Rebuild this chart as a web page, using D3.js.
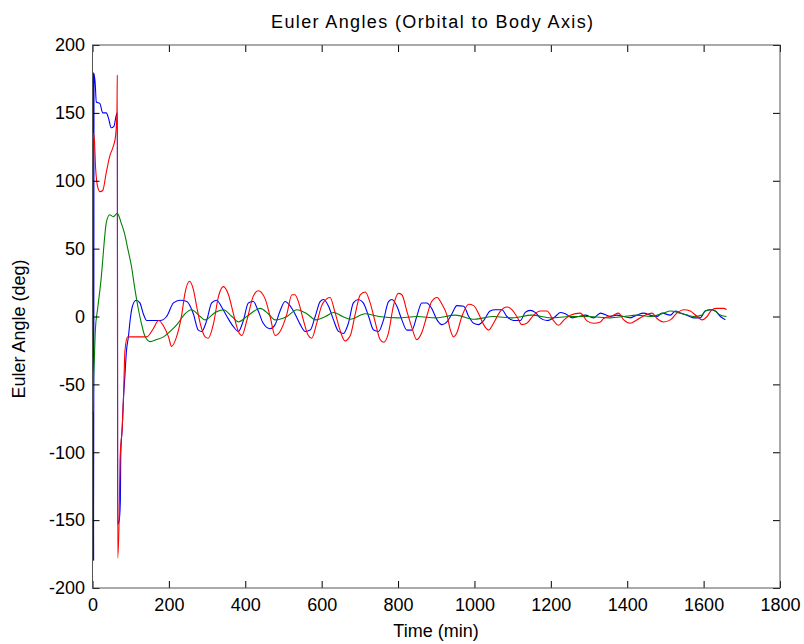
<!DOCTYPE html>
<html>
<head>
<meta charset="utf-8">
<script src="https://cdn.jsdelivr.net/npm/d3@7"></script>
<style>
  body { margin: 0; background: #fff; }
  text { font-family: "Liberation Sans", Arial, sans-serif; fill: #000; }
</style>
</head>
<body>
<svg id="chart" width="804" height="644"></svg>
<script>
// tick values
var xTicks = [0, 200, 400, 600, 800, 1000, 1200, 1400, 1600, 1800];
var yTicks = [-200, -150, -100, -50, 0, 50, 100, 150, 200];

// blue series (time in min, angle in deg)
var blueT = [0, 1, 2, 3, 4, 7, 10, 19, 27, 36, 42, 49, 56, 62, 65, 66, 70, 73, 74, 78, 81, 85, 89, 94, 98, 104, 114, 124, 133, 142, 159, 177, 194, 212, 229, 247, 264, 277, 286, 299, 312, 325, 338, 352, 369, 382, 395, 408, 421, 434, 447, 465, 478, 491, 504, 517, 530, 544, 557, 570, 583, 596, 605, 618, 631, 644, 657, 670, 683, 696, 709, 723, 736, 749, 762, 775, 784, 797, 810, 823, 836, 849, 862, 875, 888, 902, 915, 928, 941, 954, 972, 985, 998, 1011, 1024, 1041, 1054, 1072, 1085, 1102, 1120, 1133, 1146, 1159, 1172, 1190, 1212, 1225, 1238, 1256, 1273, 1290, 1312, 1330, 1356, 1373, 1391, 1408, 1425, 1443, 1460, 1478, 1491, 1513, 1526, 1539, 1556, 1574, 1591, 1604, 1618, 1631, 1644, 1657];
var blueV = [0, -180, 180, -180, 179, 172, 158, 157, 150, 150, 146, 139, 140, 148, 150, -153, -150, -135, -101, -81, -61, -43, -25, -15, -4, 7, 12, 10, 2, -3, -3, -3, 0, 10, 12, 11, 2, -10, -11, -3, 10, 12, 7, 0, -7.5, -11, -3, 10, 11, 4, -5, -9, -6, 4, 11, 8, 2, -6, -11, -10, 0, 11, 12.5, 7.5, -2.5, -11, -12.5, -5, 10, 12.5, 10, 0, -10, -11, -2.5, 11, 12.5, 7.5, -2.5, -10, -10, 0, 10, 10, 6, -2.5, -6, -4, 2, 8, 7.5, 0, -5, -6, -3, 4, 5, 5, 0, -3, -3, 3, 4.5, 3, -1, -3, 0, 3, 2, -1, 0, 1, -1, 2.5, 0, 1, 0, -1, 1, 2.5, 1, 0, 2.5, 1, 4, 2.5, 1, -1, -1, 4, 5, 4, 0, -2.5];

// green series
var greenT = [0, 1, 2, 3, 5, 7.5, 14, 23, 27.5, 32, 36, 45, 54, 65, 75, 84, 93, 102, 110, 119, 128, 138, 151, 168, 186, 203, 221, 242, 259, 282, 295, 321, 343, 365, 382, 404, 439, 460, 478, 509, 535, 561, 585, 610, 631, 655, 675, 714, 750, 800, 850, 900, 950, 1000, 1050, 1100, 1150, 1200, 1250, 1300, 1356, 1391, 1425, 1460, 1495, 1513, 1539, 1574, 1596, 1604, 1622, 1645, 1660];
var greenV = [-72, -40, -70, -45, -30, -10, 7, 29, 44, 59, 69, 75, 73.5, 76, 69, 61, 49, 37, 22, 7, -5, -15, -18.5, -17, -15, -11, -6, 2, 5, 0, -2.5, 3, 5, 0, -4, 0, 6, 2, -2.5, 0, 5, 2, -2.5, 0, 3, 0, -2, 2, 0, -1, 0, -1, 1, -2, 0, -1, 1, -1, 0, 0, -1, 0, 1, 0, 2.5, 4, 2.5, 0, 1, 4, 5, 1, 0];

// red series
var redT = [0, 2, 5, 8, 14, 20, 27, 36, 45, 54, 60, 64, 65, 66, 70, 72, 78, 81, 85, 92, 110, 124, 142, 159, 173, 186, 199, 207, 220, 234, 242, 254, 264, 273, 282, 295, 303, 317, 330, 343, 356, 369, 382, 391, 404, 421, 434, 452, 465, 478, 491, 509, 522, 530, 539, 552, 565, 574, 587, 600, 613, 622, 635, 648, 661, 675, 688, 701, 714, 727, 740, 753, 762, 775, 788, 801, 810, 823, 836, 849, 862, 875, 888, 902, 915, 928, 937, 945, 954, 967, 985, 998, 1011, 1024, 1037, 1050, 1068, 1085, 1098, 1111, 1124, 1137, 1155, 1172, 1190, 1207, 1220, 1233, 1251, 1277, 1294, 1312, 1330, 1338, 1364, 1377, 1391, 1408, 1425, 1447, 1465, 1478, 1495, 1513, 1530, 1548, 1565, 1583, 1596, 1609, 1622, 1635, 1653, 1660];
var redV = [15, 135, 130, 110, 95, 92, 93, 106, 118, 125, 132, 150, 178, -178, -145, -106, -81, -61, -25, -15, -15, -15, -15, -9, -3, -7, -15, -22, -15, 2, 17, 26, 20, 7, -5, -15, -16, -5, 15, 22, 16, 2, -11, -14, -3, 15, 19, 13, 0, -14, -11, 2, 16, 16, 11, -2.5, -14, -16, -5, 8, 13, 14, 3, -10, -18, -14, 2, 16, 18, 10, -4, -17, -19, -12, 8, 17, 16, 4, -8, -17, -12, 0, 11, 14, 9, 1, -10, -15, -12, 0, 9, 8, 2, -6, -10, -5, 4, 7, 5, 0, -6, -5, 1, 4, 4, -3, -6.5, -3, 1, 2.5, -3, -5, -4, -1.5, 1, 2.5, -2.5, -5, -2.5, 1, 2.5, -1.5, -4, -2.5, 2.5, 5, 4, 0, -2.5, 0, 5, 6, 6, 5];

var series = [
  { t: blueT, v: blueV, color: "#0000ff" },
  { t: greenT, v: greenV, color: "#008000" },
  { t: redT, v: redV, color: "#ff0000" }
];

var svg = d3.select("#chart");
// plot box (window.top is read-only, so no "top" name here)
var mLeft = 92.5, mRight = 780, mTop = 45, mBottom = 588;

svg.append("rect").attr("width", 804).attr("height", 644).attr("fill", "#fff");

var x = d3.scaleLinear().domain([0, 1800]).range([mLeft, mRight]);
var y = d3.scaleLinear().domain([-200, 200]).range([mBottom, mTop]);

// data lines
var line = d3.line()
  .x(function(d) { return x(d[0]); })
  .y(function(d) { return y(d[1]); })
  .curve(d3.curveMonotoneX);

series.forEach(function(s) {
  var pts = s.t.map(function(t, i) { return [t, s.v[i]]; });
  svg.append("path")
    .datum(pts)
    .attr("fill", "none")
    .attr("stroke", s.color)
    .attr("stroke-width", 1.1)
    .attr("d", line);
});

// matlab style labels use a plain hyphen
var fmt = function(d) { return String(d); };

// axes, ticks pointing inward
var gx = svg.append("g").attr("transform", "translate(0," + mBottom + ")")
  .call(d3.axisBottom(x).tickValues(xTicks).tickSize(-7).tickSizeOuter(0).tickPadding(10).tickFormat(fmt));
var gy = svg.append("g").attr("transform", "translate(" + mLeft + ",0)")
  .call(d3.axisLeft(y).tickValues(yTicks).tickSize(-7).tickSizeOuter(0).tickPadding(7.5).tickFormat(fmt));
var gt = svg.append("g").attr("transform", "translate(0," + mTop + ")")
  .call(d3.axisTop(x).tickValues(xTicks).tickSize(-7).tickSizeOuter(0).tickFormat(""));
var gr = svg.append("g").attr("transform", "translate(" + mRight + ",0)")
  .call(d3.axisRight(y).tickValues(yTicks).tickSize(-7).tickSizeOuter(0).tickFormat(""));

[gx, gy, gt, gr].forEach(function(g) {
  g.select(".domain").remove();
  g.selectAll(".tick line").attr("stroke", "#000");
  g.selectAll("text").attr("font-size", 18).attr("font-family", "Liberation Sans, Arial, sans-serif");
});

// box
svg.append("rect")
  .attr("x", mLeft).attr("y", mTop)
  .attr("width", mRight - mLeft).attr("height", mBottom - mTop)
  .attr("fill", "none").attr("stroke", "#555").attr("stroke-width", 1);

// title and labels
svg.append("text")
  .attr("x", 432).attr("y", 28)
  .attr("text-anchor", "middle")
  .attr("font-size", 18)
  .attr("textLength", 322)
  .attr("lengthAdjust", "spacing")
  .text("Euler Angles (Orbital to Body Axis)");

svg.append("text")
  .attr("x", 436).attr("y", 637)
  .attr("text-anchor", "middle")
  .attr("font-size", 18)
  .text("Time (min)");

svg.append("text")
  .attr("transform", "translate(25,329) rotate(-90)")
  .attr("text-anchor", "middle")
  .attr("font-size", 18)
  .text("Euler Angle (deg)");
</script>
</body>
</html>
